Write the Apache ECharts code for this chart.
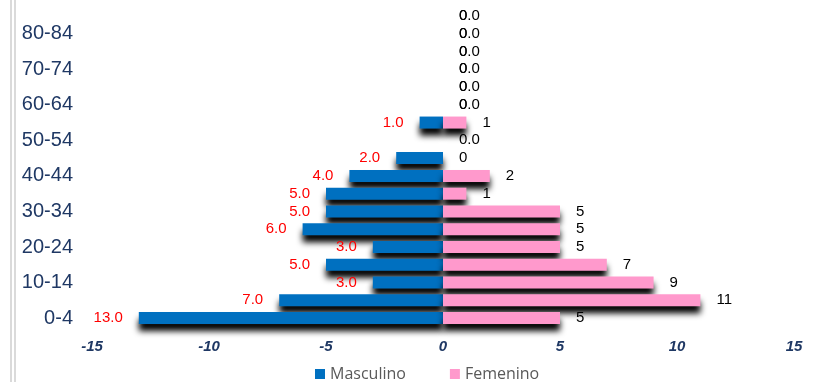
<!DOCTYPE html>
<html lang="es">
<head>
    <meta charset="UTF-8">
    <title>Pirámide poblacional</title>
    <script src="https://cdn.jsdelivr.net/npm/echarts@6/dist/echarts.min.js"></script>
    <style>
        html, body { margin: 0; padding: 0; background: #fff; }
        #charts { width: 816px; height: 382px; }
    </style>
</head>
<body>
<div id="charts"></div>
<script>
    // grupos de edad, de abajo (0-4) hacia arriba (85+)
    var grupos = ['0-4', '5-9', '10-14', '15-19', '20-24', '25-29', '30-34', '35-39', '40-44',
        '45-49', '50-54', '55-59', '60-64', '65-69', '70-74', '75-79', '80-84', '85+'];
    var masculino = [13, 7, 3, 5, 3, 6, 5, 5, 4, 2, 0, 1, 0, 0, 0, 0, 0, 0];
    var femenino = [5, 11, 9, 7, 5, 5, 5, 1, 2, 0, null, 1, 0, 0, 0, 0, 0, 0];
    var ticksX = [-15, -10, -5, 0, 5, 10, 15];

    // se dibuja de arriba hacia abajo para que las sombras queden detras de la fila inferior
    var cats = grupos.slice().reverse();
    var masc = masculino.slice().reverse().map(function (v) {
        if (v === 0) {
            return { value: 0, label: { position: 'right', color: '#000' } };
        }
        return -v;
    });
    var fem = femenino.slice().reverse();

    var sombra = {
        shadowColor: '#000',
        shadowBlur: 6,
        shadowOffsetX: 0,
        shadowOffsetY: 7
    };

    var option = {
        animation: false,
        grid: { left: 92, right: 22, top: 7, bottom: 55, containLabel: false },
        graphic: [
            { type: 'rect', shape: { x: 10, y: 0, width: 2, height: 382 }, style: { fill: '#dadada' } },
            { type: 'rect', shape: { x: 14, y: 0, width: 2, height: 382 }, style: { fill: '#dadada' } }
        ],
        legend: {
            top: 361,
            left: 310,
            icon: 'rect',
            itemWidth: 10,
            itemHeight: 10,
            itemGap: 44,
            textStyle: { color: '#595959', fontSize: 16, fontFamily: 'Open Sans' },
            data: ['Masculino', 'Femenino']
        },
        xAxis: {
            type: 'value',
            min: ticksX[0],
            max: ticksX[ticksX.length - 1],
            interval: 5,
            axisLine: { show: false },
            axisTick: { show: false },
            splitLine: { show: false },
            axisLabel: {
                margin: 12,
                color: '#1F3864',
                fontSize: 15,
                fontWeight: 'bold',
                fontStyle: 'italic',
                fontFamily: 'Liberation Sans'
            }
        },
        yAxis: {
            type: 'category',
            inverse: true,
            data: cats,
            axisLine: { show: false, onZero: false },
            axisTick: { show: false },
            axisLabel: {
                margin: 19,
                color: '#1F3864',
                fontSize: 20,
                fontFamily: 'Liberation Sans',
                interval: function (i) { return i % 2 === 1; }
            }
        },
        series: [
            {
                name: 'Masculino',
                type: 'bar',
                data: masc,
                barWidth: 12,
                barGap: '-100%',
                itemStyle: Object.assign({ color: '#0070C0' }, sombra),
                label: {
                    show: true,
                    position: 'left',
                    distance: 16,
                    color: '#FF0000',
                    fontSize: 15,
                    fontFamily: 'Liberation Sans',
                    formatter: function (p) { return Math.abs(p.value).toFixed(1); }
                }
            },
            {
                name: 'Femenino',
                type: 'bar',
                data: fem,
                barWidth: 12,
                barGap: '-100%',
                itemStyle: Object.assign({ color: '#FF99CC' }, sombra),
                label: {
                    show: true,
                    position: 'right',
                    distance: 16,
                    color: '#000',
                    fontSize: 15,
                    fontFamily: 'Liberation Sans',
                    formatter: function (p) { return p.value == null ? '' : String(p.value); }
                }
            }
        ]
    };

    var myChart = echarts.init(document.getElementById('charts'));
    myChart.setOption(option);
</script>
</body>
</html>
